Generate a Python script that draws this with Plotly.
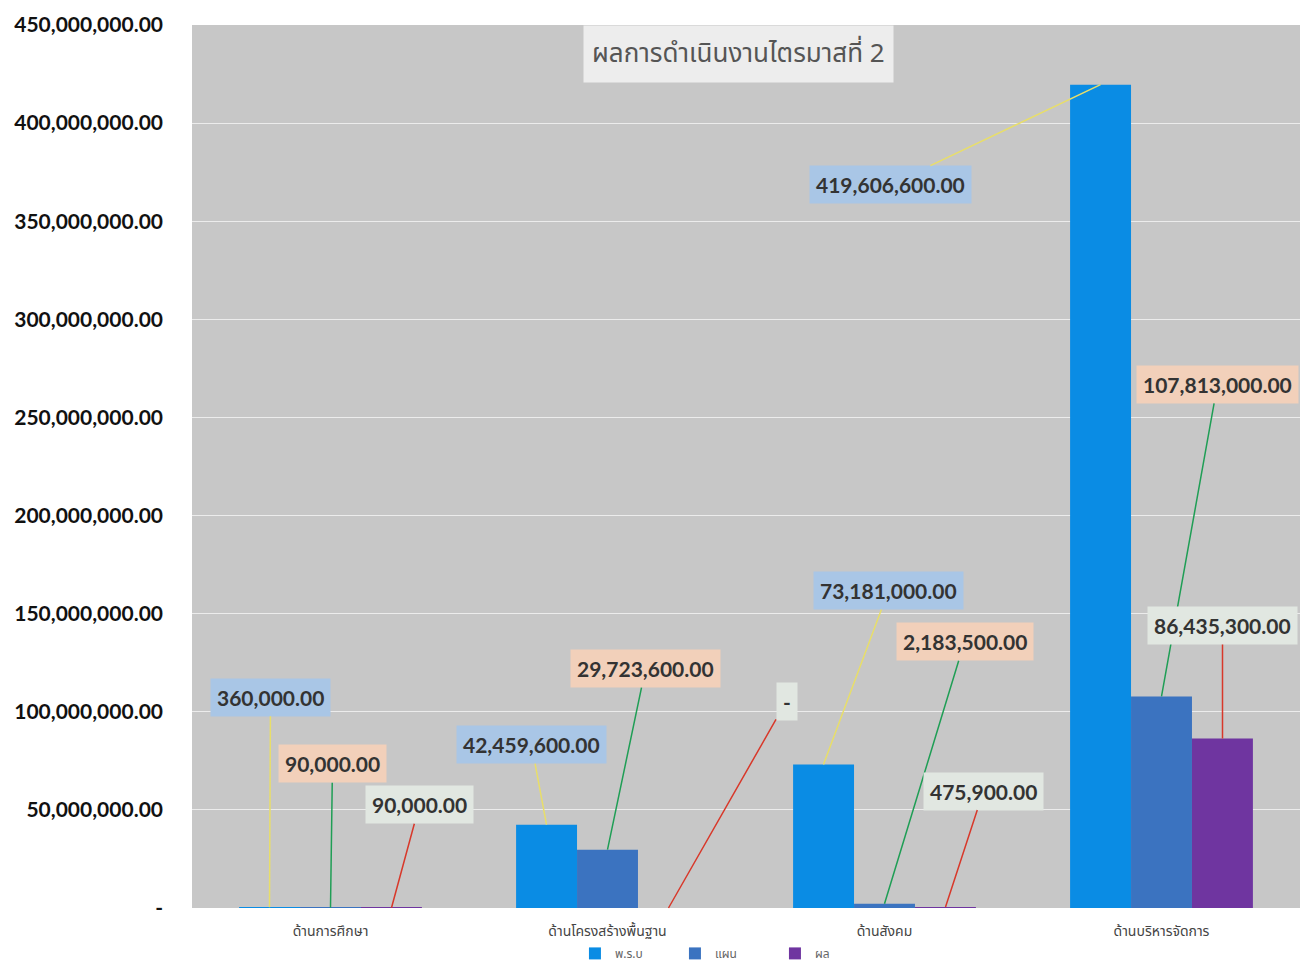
import plotly.graph_objects as go

categories = ["ด้านการศึกษา", "ด้านโครงสร้างพื้นฐาน", "ด้านสังคม", "ด้านบริหารจัดการ"]
series_names = ["พ.ร.บ", "แผน", "ผล"]
budget = [360000, 42459600, 73181000, 419606600]
plan = [90000, 29723600, 2183500, 107813000]
result = [90000, 0, 475900, 86435300]
tick_vals = [0, 50e6, 100e6, 150e6, 200e6, 250e6, 300e6, 350e6, 400e6, 450e6]
tick_text = ["-", "50,000,000.00", "100,000,000.00", "150,000,000.00", "200,000,000.00",
             "250,000,000.00", "300,000,000.00", "350,000,000.00", "400,000,000.00",
             "450,000,000.00"]
title_text = "ผลการดำเนินงานไตรมาสที่ 2"

series = [budget, plan, result]
bar_colors = ["#0a8ce4", "#3b73c0", "#6f35a0"]
box_colors = ["#a9c6e6", "#f2d0ba", "#e1e7e1"]
line_colors = ["#e8de6a", "#1f9e55", "#d8382a"]
bar_shift = [-61, 0, 61]

# label offsets (px) per series per category
label_offsets = [
    [(1, -210), (-15, -80), (65, -174), (-210, 100)],
    [(2, -144), (38, -181), (80, -262), (56, -312)],
    [(28, -103), (118, -207), (38, -116), (0, -113)],
]

fig = go.Figure()
for name, vals, col in zip(series_names, series, bar_colors):
    fig.add_trace(go.Bar(x=categories, y=vals, name=name, marker_color=col,
                         marker_line_width=0))

def fmt(v):
    return "-" if v == 0 else f"{v:,.2f}"

for si, vals in enumerate(series):
    for ci, v in enumerate(vals):
        ax, ay = label_offsets[si][ci]
        fig.add_annotation(
            x=categories[ci], y=v, xref="x", yref="y", xshift=bar_shift[si],
            text=fmt(v), showarrow=True, arrowhead=0, arrowwidth=1.5,
            arrowcolor=line_colors[si], ax=ax, ay=ay, standoff=0,
            bgcolor=box_colors[si], borderpad=6,
            font=dict(family="Lato, Open Sans, sans-serif", size=21, color="#333333",
                      weight="bold"),
        )

fig.add_annotation(
    x=0.493, y=0.967, xref="paper", yref="paper", xanchor="center", yanchor="middle",
    text=title_text, showarrow=False,
    bgcolor="#ededed", borderpad=8,
    font=dict(family="Noto Sans Thai, Noto Sans, sans-serif", size=26, color="#555555"),
)

fig.update_layout(
    width=1303, height=957,
    margin=dict(l=184, r=11, t=17, b=57, autoexpand=False),
    paper_bgcolor="white", plot_bgcolor="#c7c7c7",
    barmode="group", bargap=0.34, bargroupgap=0,
    showlegend=True,
    legend=dict(orientation="h", x=0.481, xanchor="center", y=-0.035, yanchor="top",
                font=dict(size=12, color="#666666"), tracegroupgap=0,
                entrywidth=55, entrywidthmode="pixels"),
    font=dict(family="Noto Sans Thai, Noto Sans, sans-serif"),
)
fig.update_xaxes(tickfont=dict(size=14, color="#444444"), showgrid=False,
                 showline=False, ticks="", automargin=False, ticklabelstandoff=13)
fig.update_yaxes(range=[0, 450e6], tickvals=tick_vals, ticktext=tick_text,
                 tickfont=dict(family="Lato, Open Sans, sans-serif", size=21,
                               color="#111111", weight="bold"),
                 gridcolor="#ececec", gridwidth=1.2, zeroline=False,
                 ticklabelstandoff=28, automargin=False)

fig.write_html("out.html")
